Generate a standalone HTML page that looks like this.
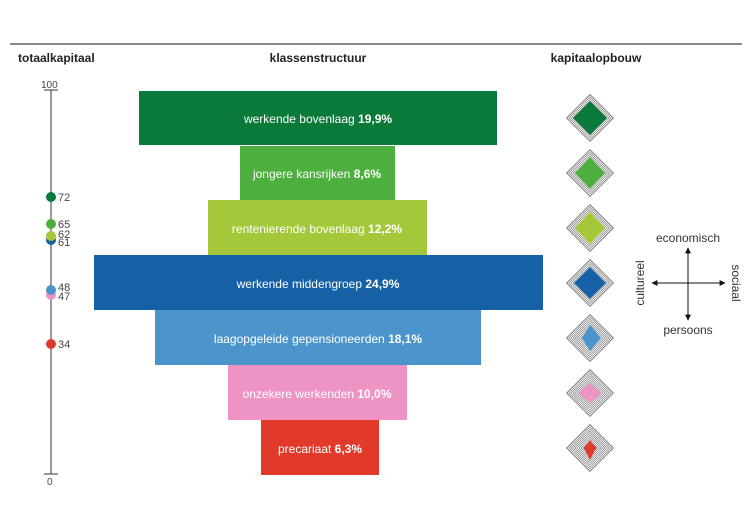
<!DOCTYPE html>
<html><head><meta charset="utf-8"><style>
body{margin:0;width:750px;height:520px;background:#fff;overflow:hidden;font-family:"Liberation Sans",sans-serif}
</style></head><body>
<svg width="750" height="520" xmlns="http://www.w3.org/2000/svg" font-family="Liberation Sans, sans-serif">
<defs>
<marker id="ar" viewBox="0 0 10 10" refX="9" refY="5" markerWidth="6" markerHeight="6" orient="auto"><path d="M0,0L10,5L0,10z" fill="#111"/></marker>
<g id="dia">
<polygon points="0,-24 24,0 0,24 -24,0" fill="#7a7a7a"/>
<polygon points="0,-22 22,0 0,22 -22,0" fill="none" stroke="#fff" stroke-width="0.8"/>
<polygon points="0,-20 20,0 0,20 -20,0" fill="none" stroke="#fff" stroke-width="0.8"/>
<polygon points="0,-18 18,0 0,18 -18,0" fill="none" stroke="#fff" stroke-width="0.8"/>
<polygon points="0,-16 16,0 0,16 -16,0" fill="none" stroke="#fff" stroke-width="0.8"/>
<polygon points="0,-14 14,0 0,14 -14,0" fill="none" stroke="#fff" stroke-width="0.8"/>
<polygon points="0,-12 12,0 0,12 -12,0" fill="none" stroke="#fff" stroke-width="0.8"/>
<polygon points="0,-10 10,0 0,10 -10,0" fill="none" stroke="#fff" stroke-width="0.8"/>
<polygon points="0,-8 8,0 0,8 -8,0" fill="none" stroke="#fff" stroke-width="0.8"/>
</g>
</defs>
<line x1="10" y1="44" x2="742" y2="44" stroke="#111" stroke-width="1"/>
<g font-weight="bold" font-size="12" fill="#222">
<text x="18" y="62">totaalkapitaal</text>
<text x="318" y="62" text-anchor="middle">klassenstructuur</text>
<text x="596" y="62" text-anchor="middle">kapitaalopbouw</text>
</g>
<line x1="51" y1="90" x2="51" y2="474" stroke="#555" stroke-width="1.2"/>
<line x1="44" y1="90" x2="58" y2="90" stroke="#333"/>
<line x1="44" y1="474" x2="58" y2="474" stroke="#333"/>
<g font-size="10" fill="#444">
<text x="41" y="88">100</text><text x="47" y="485">0</text>
</g>
<circle cx="51" cy="240" r="5" fill="#1660a5"/>
<circle cx="51" cy="295" r="5" fill="#ee94c4"/>
<circle cx="51" cy="197" r="5" fill="#0a7a3a"/>
<circle cx="51" cy="224" r="5" fill="#4caf3e"/>
<circle cx="51" cy="236" r="5" fill="#a5c83a"/>
<circle cx="51" cy="290" r="5" fill="#4b95cc"/>
<circle cx="51" cy="344" r="5" fill="#e23a2a"/>
<g font-size="11" fill="#444">
<text x="58" y="201">72</text><text x="58" y="228">65</text><text x="58" y="238">62</text><text x="58" y="246">61</text>
<text x="58" y="291">48</text><text x="58" y="300">47</text><text x="58" y="348">34</text>
</g>
<rect x="139" y="91" width="358" height="54" fill="#0a7a3a"/>
<rect x="240" y="146" width="155" height="54" fill="#4caf3e"/>
<rect x="208" y="200" width="219" height="55" fill="#a5c83a"/>
<rect x="94" y="255" width="449" height="55" fill="#1660a5"/>
<rect x="155" y="310" width="326" height="55" fill="#4b95cc"/>
<rect x="228" y="365" width="179" height="55" fill="#ee94c4"/>
<rect x="261" y="420" width="118" height="55" fill="#e23a2a"/>
<g font-size="12" fill="#fff" text-anchor="middle">
<text x="318" y="123">werkende bovenlaag <tspan font-weight="bold">19,9%</tspan></text>
<text x="317" y="178">jongere kansrijken <tspan font-weight="bold">8,6%</tspan></text>
<text x="317" y="233">rentenierende bovenlaag <tspan font-weight="bold">12,2%</tspan></text>
<text x="318" y="288">werkende middengroep <tspan font-weight="bold">24,9%</tspan></text>
<text x="318" y="343">laagopgeleide gepensioneerden <tspan font-weight="bold">18,1%</tspan></text>
<text x="317" y="398">onzekere werkenden <tspan font-weight="bold">10,0%</tspan></text>
<text x="320" y="453">precariaat <tspan font-weight="bold">6,3%</tspan></text>
</g>
<use href="#dia" x="590" y="118"/><polygon points="590,101 607,118 590,135 573,118" fill="#0a7a3a"/>
<use href="#dia" x="590" y="173"/><polygon points="590,157 605,173 590,189 575,173" fill="#4caf3e"/>
<use href="#dia" x="590" y="228"/><polygon points="590,212 605,228 590,244 575,228" fill="#a5c83a"/>
<use href="#dia" x="590" y="283"/><polygon points="590,267 606,283 590,299 574,283" fill="#1660a5"/>
<use href="#dia" x="590" y="338"/><polygon points="590,325 601,338 590,351 582,338" fill="#4b95cc"/>
<use href="#dia" x="590" y="393"/><polygon points="590,383 601,393 590,403 579,393" fill="#ee94c4"/>
<use href="#dia" x="590" y="448"/><polygon points="590,440 596,448 590,460 584,448" fill="#e23a2a"/>
<line x1="688" y1="283" x2="688" y2="248" stroke="#111" marker-end="url(#ar)"/>
<line x1="688" y1="283" x2="688" y2="320" stroke="#111" marker-end="url(#ar)"/>
<line x1="688" y1="283" x2="652" y2="283" stroke="#111" marker-end="url(#ar)"/>
<line x1="688" y1="283" x2="725" y2="283" stroke="#111" marker-end="url(#ar)"/>
<g font-size="12" fill="#333">
<text x="688" y="242" text-anchor="middle">economisch</text>
<text x="688" y="334" text-anchor="middle">persoons</text>
<text transform="translate(644,283) rotate(-90)" text-anchor="middle">cultureel</text>
<text transform="translate(732,283) rotate(90)" text-anchor="middle">sociaal</text>
</g>
</svg>
</body></html>
